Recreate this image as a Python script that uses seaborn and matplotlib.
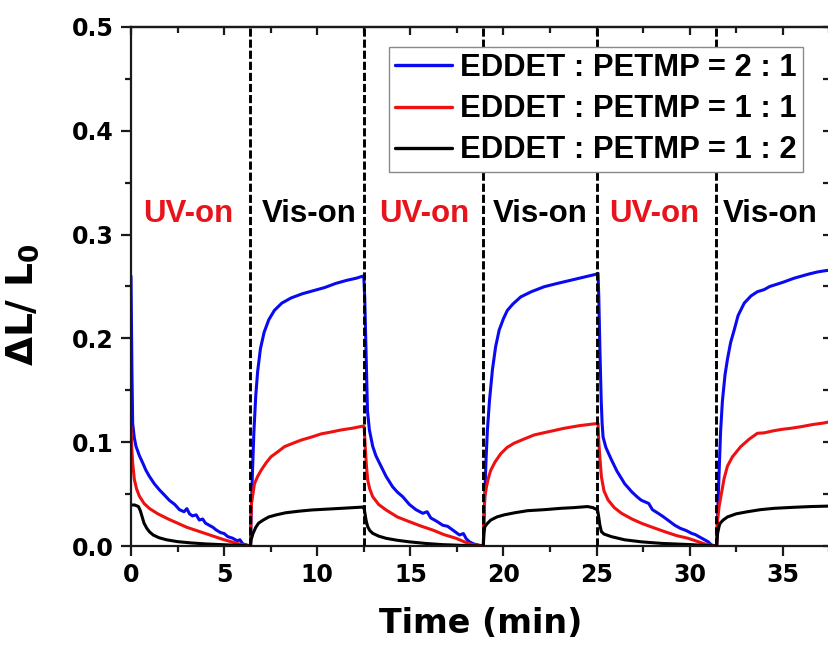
import matplotlib
matplotlib.use("Agg")
import matplotlib.pyplot as plt
import seaborn as sns
import pandas as pd

# ---------------- data ----------------
series_labels = ["EDDET : PETMP = 2 : 1", "EDDET : PETMP = 1 : 1", "EDDET : PETMP = 1 : 2"]
series_colors = ["#0a0af0", "#ee1111", "#000000"]

switch_times = [6.4, 12.5, 18.9, 25.05, 31.4]
phase_labels = ["UV-on", "Vis-on", "UV-on", "Vis-on", "UV-on", "Vis-on"]
phase_x = [3.05, 9.55, 15.75, 21.95, 28.1, 34.35]

blue_t = [0.0, 0.02, 0.05, 0.09, 0.18, 0.27, 0.45, 0.63, 0.8, 0.99, 1.25, 1.53, 1.8, 2.06, 2.35, 2.6, 2.85, 3.0, 3.14, 3.3, 3.5, 3.67, 3.85, 4.0, 4.2, 4.4, 4.57, 4.8, 5.0, 5.2, 5.46, 5.7, 5.85, 6.0, 6.2, 6.38,
          6.42, 6.45, 6.52, 6.6, 6.7, 6.8, 6.95, 7.15, 7.4, 7.7, 8.1, 8.6, 9.2, 9.8, 10.4, 11.0, 11.6, 12.1, 12.45,
          12.5, 12.55, 12.62, 12.7, 12.8, 12.98, 13.15, 13.34, 13.7, 14.05, 14.3, 14.59, 14.95, 15.3, 15.67, 15.9, 16.1, 16.4, 16.74, 17.0, 17.3, 17.64, 17.85, 18.0, 18.18, 18.4, 18.63, 18.88,
          18.92, 18.95, 19.0, 19.07, 19.14, 19.25, 19.41, 19.58, 19.77, 20.0, 20.21, 20.5, 20.93, 21.5, 22.19, 22.9, 23.61, 24.3, 25.02,
          25.08, 25.12, 25.18, 25.25, 25.3, 25.35, 25.5, 25.8, 26.1, 26.51, 26.9, 27.2, 27.41, 27.8, 28.0, 28.31, 28.6, 28.9, 29.2, 29.5, 29.8, 30.1, 30.3, 30.5, 30.81, 31.0, 31.17, 31.4,
          31.45, 31.5, 31.58, 31.66, 31.76, 31.9, 32.03, 32.2, 32.39, 32.6, 32.93, 33.3, 33.64, 34.0, 34.3, 34.54, 35.0, 35.3, 35.61, 36.0, 36.4, 36.86, 37.2, 37.6]
blue_v = [0.260, 0.22, 0.17, 0.118, 0.104, 0.096, 0.087, 0.080, 0.073, 0.067, 0.060, 0.054, 0.049, 0.044, 0.040, 0.035, 0.033, 0.036, 0.031, 0.029, 0.030, 0.025, 0.026, 0.022, 0.020, 0.018, 0.0155, 0.013, 0.012, 0.009, 0.0075, 0.005, 0.006, 0.002, 0.001, 0.0,
          0.0, 0.03, 0.07, 0.11, 0.145, 0.168, 0.19, 0.206, 0.218, 0.227, 0.234, 0.239, 0.243, 0.246, 0.249, 0.253, 0.256, 0.258, 0.260,
          0.2595, 0.24, 0.19, 0.13, 0.112, 0.096, 0.087, 0.080, 0.067, 0.057, 0.052, 0.0475, 0.040, 0.035, 0.0315, 0.033, 0.027, 0.024, 0.020, 0.019, 0.015, 0.0106, 0.012, 0.007, 0.004, 0.002, 0.001, 0.0,
          0.0, 0.02, 0.05, 0.085, 0.112, 0.14, 0.17, 0.192, 0.208, 0.219, 0.227, 0.233, 0.240, 0.245, 0.2498, 0.253, 0.256, 0.259, 0.262,
          0.2627, 0.24, 0.19, 0.14, 0.118, 0.105, 0.095, 0.083, 0.072, 0.060, 0.052, 0.047, 0.044, 0.041, 0.035, 0.0315, 0.028, 0.024, 0.020, 0.017, 0.015, 0.0122, 0.011, 0.009, 0.0058, 0.004, 0.001, 0.0,
          0.0, 0.03, 0.07, 0.11, 0.14, 0.165, 0.18, 0.196, 0.208, 0.222, 0.234, 0.241, 0.245, 0.247, 0.250, 0.2514, 0.254, 0.256, 0.258, 0.260, 0.262, 0.264, 0.265, 0.266]

red_t = [0.0, 0.04, 0.09, 0.18, 0.3, 0.45, 0.7, 1.0, 1.44, 2.0, 2.5, 3.0, 3.5, 4.0, 4.5, 5.0, 5.4, 5.8, 6.2, 6.38,
         6.42, 6.44, 6.47, 6.63, 6.8, 6.99, 7.25, 7.52, 7.9, 8.24, 8.7, 9.13, 9.7, 10.21, 10.8, 11.28, 11.9, 12.45,
         12.52, 12.58, 12.64, 12.71, 12.82, 12.98, 13.3, 13.7, 14.3, 14.95, 15.6, 16.2, 16.8, 17.46, 17.9, 18.3, 18.88,
         18.92, 18.95, 19.0, 19.1, 19.2, 19.32, 19.55, 19.86, 20.2, 20.57, 21.1, 21.65, 22.4, 23.26, 24.1, 25.02,
         25.08, 25.12, 25.18, 25.26, 25.4, 25.62, 25.95, 26.34, 26.9, 27.41, 28.0, 28.66, 29.3, 29.92, 30.4, 30.81, 31.1, 31.4,
         31.45, 31.5, 31.58, 31.7, 31.85, 32.03, 32.3, 32.74, 33.2, 33.64, 34.0, 34.5, 35.0, 35.43, 36.0, 36.6, 37.2, 37.6]
red_v = [0.115, 0.095, 0.080, 0.064, 0.055, 0.048, 0.041, 0.036, 0.031, 0.026, 0.022, 0.018, 0.015, 0.012, 0.009, 0.006, 0.004, 0.002, 0.0005, 0.0,
         0.0, 0.025, 0.041, 0.06, 0.067, 0.073, 0.080, 0.086, 0.091, 0.0957, 0.099, 0.102, 0.105, 0.108, 0.110, 0.1118, 0.1135, 0.1155,
         0.115, 0.095, 0.078, 0.0636, 0.055, 0.0475, 0.040, 0.0347, 0.028, 0.0234, 0.019, 0.0154, 0.011, 0.0074, 0.004, 0.0015, 0.0,
         0.0, 0.03, 0.0475, 0.058, 0.066, 0.073, 0.081, 0.089, 0.095, 0.099, 0.103, 0.107, 0.110, 0.1134, 0.116, 0.118,
         0.118, 0.10, 0.085, 0.0668, 0.053, 0.0443, 0.037, 0.0315, 0.026, 0.0219, 0.018, 0.0138, 0.010, 0.0074, 0.0045, 0.002, 0.0008, 0.0,
         0.0, 0.025, 0.038, 0.05, 0.065, 0.077, 0.086, 0.0957, 0.103, 0.1086, 0.109, 0.111, 0.1125, 0.1134, 0.115, 0.117, 0.1185, 0.120]

black_t = [0.0, 0.2, 0.4, 0.5, 0.6, 0.7, 0.85, 1.0, 1.2, 1.5, 1.9, 2.5, 3.2, 4.0, 5.0, 6.0, 6.38,
           6.42, 6.45, 6.55, 6.7, 6.85, 7.1, 7.4, 7.8, 8.3, 9.0, 9.7, 10.5, 11.5, 12.45,
           12.5, 12.55, 12.62, 12.71, 12.82, 12.98, 13.3, 13.7, 14.3, 14.95, 15.8, 16.74, 17.8, 18.88,
           18.92, 18.95, 19.0, 19.15, 19.32, 19.65, 20.04, 20.6, 21.29, 22.2, 23.08, 23.8, 24.51, 24.8, 25.02,
           25.06, 25.1, 25.18, 25.26, 25.4, 25.8, 26.5, 27.41, 28.5, 30.1, 31.4,
           31.45, 31.5, 31.58, 31.64, 31.8, 32.03, 32.5, 33.1, 33.8, 34.54, 35.5, 36.5, 37.6]
black_v = [0.0395, 0.0395, 0.038, 0.034, 0.028, 0.022, 0.017, 0.0135, 0.0105, 0.008, 0.006, 0.0042, 0.003, 0.002, 0.0012, 0.0005, 0.0,
           0.0, 0.006, 0.012, 0.018, 0.022, 0.025, 0.028, 0.030, 0.032, 0.0335, 0.0347, 0.0355, 0.0365, 0.0375,
           0.0375, 0.033, 0.025, 0.0186, 0.015, 0.0122, 0.0095, 0.0074, 0.0055, 0.004, 0.0025, 0.0013, 0.0006, 0.0,
           0.0, 0.012, 0.0186, 0.022, 0.025, 0.028, 0.030, 0.032, 0.034, 0.035, 0.0363, 0.037, 0.038, 0.037, 0.035,
           0.034, 0.030, 0.020, 0.0138, 0.0115, 0.009, 0.006, 0.004, 0.0025, 0.0013, 0.0,
           0.0, 0.012, 0.019, 0.022, 0.025, 0.028, 0.031, 0.033, 0.035, 0.0363, 0.0372, 0.038, 0.0385]

x_ticks = [0, 5, 10, 15, 20, 25, 30, 35]
y_ticks = [0.0, 0.1, 0.2, 0.3, 0.4, 0.5]

# ---------------- styling ----------------
sns.set_theme(style="white")
plt.rcParams.update({
    "font.family": ["DejaVu Sans"],
    "font.weight": "bold",
    "text.color": "black",
    "axes.labelcolor": "black",
    "xtick.color": "black",
    "ytick.color": "black",
    "mathtext.fontset": "custom",
    "mathtext.rm": "DejaVu Sans:bold",
    "mathtext.it": "DejaVu Sans:bold",
    "mathtext.bf": "DejaVu Sans:bold",
    "axes.linewidth": 1.6,
    "axes.edgecolor": "#1a1a1a",
})

frames = []
for lab, t, v in zip(series_labels, [blue_t, red_t, black_t], [blue_v, red_v, black_v]):
    assert len(t) == len(v), lab
    frames.append(pd.DataFrame({"time": t, "value": v, "ratio": lab}))
df = pd.concat(frames, ignore_index=True)

fig = plt.figure(figsize=(8.29, 6.48), dpi=100)
ax = fig.add_axes([131 / 829, 1 - 546 / 648, 700 / 829, 519 / 648])

sns.lineplot(data=df, x="time", y="value", hue="ratio", hue_order=series_labels,
             palette=dict(zip(series_labels, series_colors)), sort=False, estimator=None,
             linewidth=2.2, legend=False, ax=ax, zorder=2)
line_handles = list(ax.lines[:3])

for d in switch_times:
    ax.axvline(d, color="black", lw=2.1, ls=(0, (2.8, 1.0)), zorder=3)

for x, lab in zip(phase_x, phase_labels):
    ax.text(x, 0.312, lab, color="#e8141c" if lab == "UV-on" else "black",
            fontsize=22.5, fontweight="bold", family="Liberation Sans",
            ha="center", va="baseline", zorder=4)

ax.set_xlim(0, 37.59)
ax.set_ylim(0, 0.5)
ax.set_xticks(x_ticks)
ax.set_yticks(y_ticks)
ax.set_xticklabels([str(v) for v in x_ticks])
ax.set_yticklabels([f"{v:.1f}" for v in y_ticks])
ax.xaxis.set_minor_locator(matplotlib.ticker.MultipleLocator(2.5))
ax.yaxis.set_minor_locator(matplotlib.ticker.MultipleLocator(0.05))
ax.tick_params(axis="both", which="major", direction="out", length=7.5, width=1.6,
               labelsize=17, pad=5, color="#1a1a1a", labelcolor="black",
               bottom=True, left=True, top=False, right=False)
ax.tick_params(axis="both", which="minor", direction="out", length=4.5, width=1.6,
               bottom=True, left=True, top=False, right=False, color="#1a1a1a")
for lbl in ax.get_xticklabels() + ax.get_yticklabels():
    lbl.set_fontweight("bold")

# mirrored top/right ticks pointing inward
top = ax.secondary_xaxis("top")
top.set_xticks(x_ticks)
top.xaxis.set_minor_locator(matplotlib.ticker.MultipleLocator(2.5))
top.tick_params(which="major", direction="in", length=6, width=1.6, labeltop=False, color="#1a1a1a")
top.tick_params(which="minor", direction="in", length=4, width=1.6, color="#1a1a1a")
rgt = ax.secondary_yaxis("right")
rgt.set_yticks(y_ticks)
rgt.yaxis.set_minor_locator(matplotlib.ticker.MultipleLocator(0.05))
rgt.tick_params(which="major", direction="in", length=6, width=1.6, labelright=False, color="#1a1a1a")
rgt.tick_params(which="minor", direction="in", length=6, width=1.6, color="#1a1a1a")

ax.set_xlabel("Time (min)", fontsize=24, fontweight="bold", color="black")
ax.xaxis.set_label_coords(0.5, -0.118)
ax.set_ylabel(r"$\mathbf{\Delta L/\ L_0}$", fontsize=27, color="black")
ax.yaxis.set_label_coords(-0.128, 0.465)

leg = ax.legend(line_handles, series_labels, loc="upper right",
                bbox_to_anchor=((803 - 131) / 700, (546 - 47) / 519), borderaxespad=0,
                prop={"family": "Liberation Sans", "weight": "bold", "size": 22.3},
                frameon=True, fancybox=False, framealpha=1, edgecolor="#8a8a8a",
                handlelength=1.85, handletextpad=0.25, labelspacing=0.36, borderpad=0.2)
leg.get_frame().set_linewidth(1.0)
leg.set_zorder(5)
for txt in leg.get_texts():
    txt.set_color("black")
for h in leg.legend_handles:
    h.set_linewidth(2.4)

fig.savefig("out.png", dpi=100)
